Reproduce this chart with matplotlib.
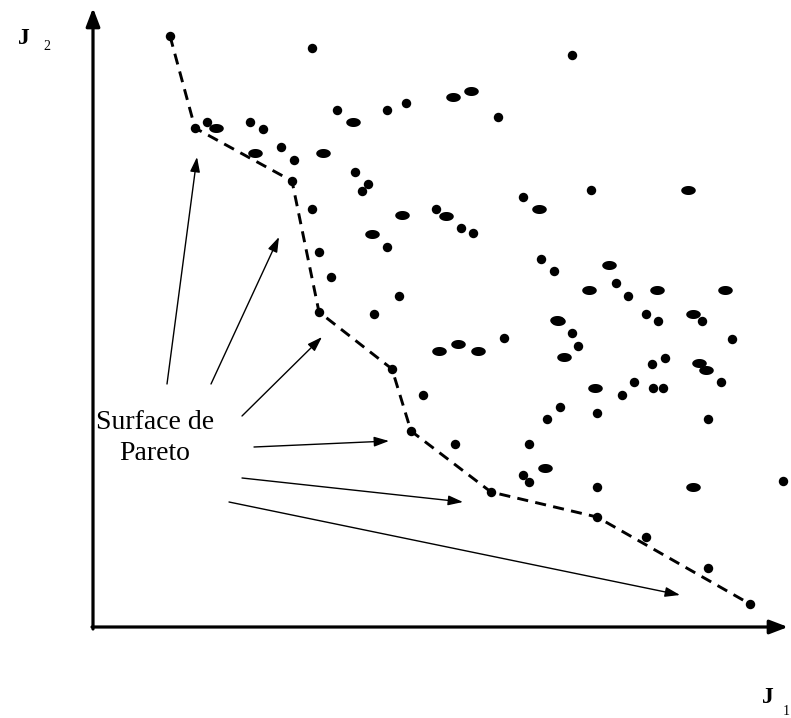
import matplotlib
matplotlib.use("Agg")
import matplotlib.pyplot as plt
from matplotlib.path import Path
import numpy as np

# ---- data (schematic in image coordinates) ----
pareto_x = [170, 195, 292, 319, 392, 411, 491, 597, 750]
pareto_y = [36, 128, 181, 312, 369, 431, 492, 517, 604]

round_x = [312, 337, 387, 406, 207, 250, 263, 281, 294, 355, 368, 362, 312, 436, 461, 473,
           387, 319, 331, 399, 374, 572, 498, 591, 523, 541, 554, 616, 628, 646, 658, 702,
           423, 455, 504, 572, 578, 732, 652, 665, 721, 634, 622, 560, 547, 597, 708, 529,
           523, 529, 597, 783, 646, 708, 653, 663]
round_y = [48, 110, 110, 103, 122, 122, 129, 147, 160, 172, 184, 191, 209, 209, 228, 233,
           247, 252, 277, 296, 314, 55, 117, 190, 197, 259, 271, 283, 296, 314, 321, 321,
           395, 444, 338, 333, 346, 339, 364, 358, 382, 382, 395, 407, 419, 413, 419, 444,
           475, 482, 487, 481, 537, 568, 388, 388]

oval_x = [353, 453, 471, 216, 255, 323, 402, 446, 372, 688, 539, 609, 589, 657, 725, 693,
          558, 439, 458, 478, 557, 564, 699, 706, 595, 545, 693]
oval_y = [122, 97, 91, 128, 153, 153, 215, 216, 234, 190, 209, 265, 290, 290, 290, 314,
          321, 351, 344, 351, 320, 357, 363, 370, 388, 468, 487]

arrow_tails = [(167, 384), (211, 384), (242, 416), (254, 447), (242, 478), (229, 502)]
arrow_heads = [(197, 157), (279, 237), (322, 337), (389, 441), (463, 502), (680, 595)]

label_text = "Surface de\nPareto"
x_label, y_label = "J", "J"
x_sub, y_sub = "1", "2"

# ---- figure ----
W, H = 791, 718
fig = plt.figure(figsize=(W / 100, H / 100), dpi=100)
ax = fig.add_axes([0, 0, 1, 1])
ax.set_xlim(0, W)
ax.set_ylim(H, 0)
ax.axis("off")

serif = ["Liberation Serif", "DejaVu Serif"]

# axes arrows
ax.annotate("", xy=(93, 8), xytext=(93, 629),
            arrowprops=dict(arrowstyle="-|>,head_length=1.1,head_width=0.42",
                            mutation_scale=10, lw=2.3, color="black",
                            shrinkA=0, shrinkB=0))
ax.annotate("", xy=(788, 627), xytext=(92, 627),
            arrowprops=dict(arrowstyle="-|>,head_length=1.1,head_width=0.42",
                            mutation_scale=10, lw=2.3, color="black",
                            shrinkA=0, shrinkB=0))

# Pareto front dashed line
ax.plot(pareto_x, pareto_y, color="black", lw=2.1, dashes=(3.8, 2.5), zorder=2)

# points
ax.plot(pareto_x, pareto_y, "o", color="black", ms=6.8, mew=0, zorder=3)
ax.plot(round_x, round_y, "o", color="black", ms=6.8, mew=0, zorder=3)
t = np.linspace(0, 2 * np.pi, 40)
oval = Path(np.column_stack([np.cos(t), 0.62 * np.sin(t)]))
ax.plot(oval_x, oval_y, linestyle="none", marker=oval, color="black", ms=10.5, mew=0, zorder=3)

# annotation arrows
for (tx, ty), (hx, hy) in zip(arrow_tails, arrow_heads):
    ax.annotate("", xy=(hx, hy), xytext=(tx, ty),
                arrowprops=dict(arrowstyle="-|>,head_length=0.9,head_width=0.3",
                                mutation_scale=10, lw=1.0, color="black",
                                shrinkA=0, shrinkB=0))

ax.text(155, 438, label_text, ha="center", va="center", fontsize=20,
        family=serif, linespacing=1.3)

# axis labels
ax.text(24, 44, y_label, ha="center", va="baseline", fontsize=17, fontweight="bold", family=serif)
ax.text(47, 50, y_sub, ha="center", va="baseline", fontsize=10, family=serif)
ax.text(768, 703, x_label, ha="center", va="baseline", fontsize=17, fontweight="bold", family=serif)
ax.text(786, 715, x_sub, ha="center", va="baseline", fontsize=10, family=serif)

fig.savefig("out.png", dpi=100)
